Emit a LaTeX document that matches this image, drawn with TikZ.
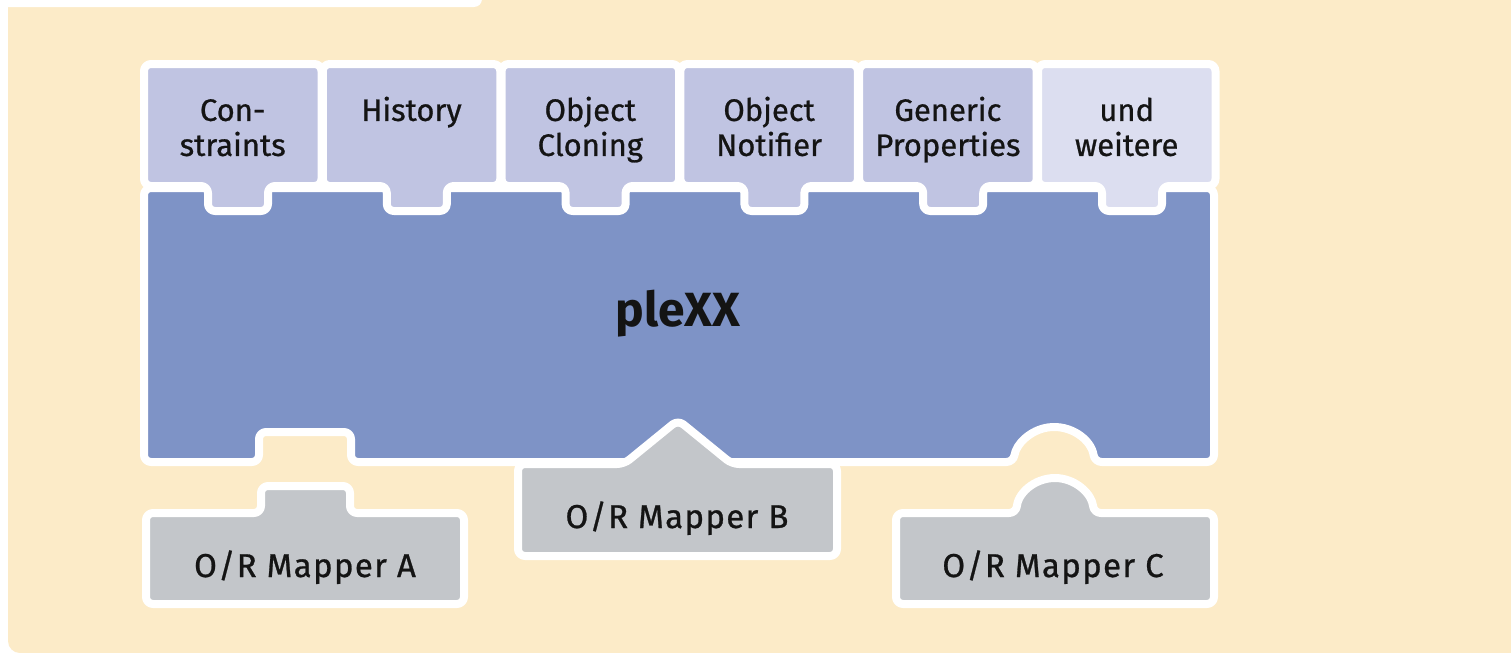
\documentclass[tikz,border=0pt]{standalone}
\usepackage{fontspec}
\setmainfont{Fira Sans}[FakeBold=0.8]
\newfontfamily\mapperfont{Fira Sans}[FakeBold=0.8, LetterSpace=4]
\newfontfamily\corefont{Fira Sans}
\usepackage{tikz}
\definecolor{bgbeige}{HTML}{FCEBC8}
\definecolor{modfill}{HTML}{C0C4E2}
\definecolor{modlight}{HTML}{DCDEF0}
\definecolor{corefill}{HTML}{7E93C6}
\definecolor{mapfill}{HTML}{C3C6CA}
\definecolor{txt}{HTML}{141414}
\tikzstyle{piece} = [draw=white, line width=4pt, rounded corners=3.5pt, line join=round]
\tikzstyle{modlabel} = [anchor=north, align=center, text=txt, inner sep=0pt, font=\fontsize{15.5}{17.5}\selectfont]
\tikzstyle{maplabel} = [anchor=base, text=txt, inner sep=0pt, font=\mapperfont\fontsize{16.5}{18}\selectfont]
\tikzstyle{corelabel} = [anchor=base, text=txt, inner sep=0pt, font=\corefont\fontsize{24}{28}\selectfont\bfseries]

\begin{document}
\begin{tikzpicture}[x=0.5pt, y=-0.5pt]
    \useasboundingbox (0,0) rectangle (1511,653);
    \fill[white] (0,0) rectangle (1511,653);
    \fill[bgbeige] (1530,-20) -- (8,-20) [rounded corners=6pt] -- (8,653) [sharp corners] -- (1530,653) -- cycle;
    \fill[white, rounded corners=4pt] (-20,-20) rectangle (482,7);
    \path[piece, fill=corefill] (144,188) -- (1214,188) -- (1214,462) -- (1094.6,462) arc[start angle=-8.4, end angle=-171.6, radius=41] -- (351,462) -- (351,432) -- (259,432) -- (259,462) -- (144,462) -- cycle;
    \node[corelabel] (core) at (678,326) {pleXX};
    \foreach \i/\lbl/\col in {0/{Con-\\straints}/modfill, 1/History/modfill, 2/{Object\\Cloning}/modfill, 3/{Object\\Notifier}/modfill, 4/{Generic\\Properties}/modfill, 5/{und\\weitere}/modlight} {
        \pgfmathsetmacro{\xo}{178.8*\i}
        \path[piece, fill=\col] ({144+\xo},64) -- ({321.5+\xo},64) -- ({321.5+\xo},186) -- ({268+\xo},186) -- ({268+\xo},211) -- ({208+\xo},211) -- ({208+\xo},186) -- ({144+\xo},186) -- cycle;
        \node[modlabel] (mod\i) at ({232.7+\xo},96) {\strut\lbl};
    }
    \path[piece, fill=mapfill] (146,513) -- (261,513) -- (261,486) -- (350,486) -- (350,513) -- (464,513) -- (464,604) -- (146,604) -- cycle;
    \node[maplabel] (mapA) at (305,577) {O/R Mapper A};
    \path[piece, fill=mapfill] (518,464) -- (624,464) -- (678,420) -- (732,464) -- (837,464) -- (837,556) -- (518,556) -- cycle;
    \node[maplabel] (mapB) at (677,528) {O/R Mapper B};
    \path[piece, fill=mapfill] (896,513) -- (1016.2,513) arc[start angle=-174.1, end angle=-5.9, radius=39] -- (1214,513) -- (1214,604) -- (896,604) -- cycle;
    \node[maplabel] (mapC) at (1053,577) {O/R Mapper C};
\end{tikzpicture}
\end{document}
